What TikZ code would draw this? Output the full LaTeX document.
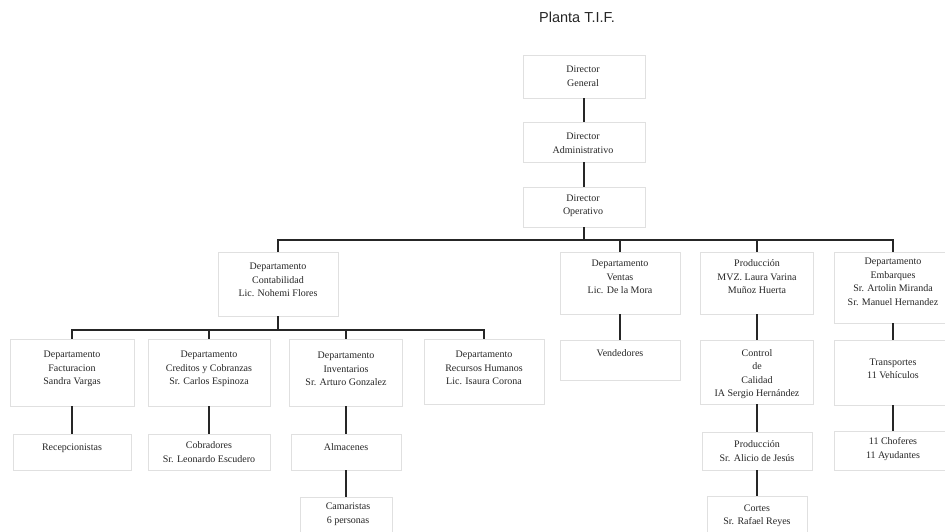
\documentclass[tikz,border=0pt]{standalone}
\usepackage{fontspec}
\setmainfont{Liberation Serif}
\newfontfamily\titlefont{Liberation Sans}
\begin{document}
\begin{tikzpicture}[x=1pt,y=-1pt,
  bx/.style={draw=black!12, line width=0.9pt, inner sep=0pt},
  tx/.style={align=center, inner sep=0pt, text=black!85, font=\fontsize{10}{13.5}\selectfont},
  ln/.style={draw=black!85, line width=1.2pt}]
\useasboundingbox[fill=white] (0,0) rectangle (945,532);
\node[font=\titlefont\fontsize{14.5}{16}\selectfont, text=black!85] (title) at (577,17) {Planta T.I.F.};
% boxes
\node[bx, minimum width=122, minimum height=43] (dg) at (584,76.5) {};
\node[bx, minimum width=122, minimum height=40] (da) at (584,142) {};
\node[bx, minimum width=122, minimum height=40] (dop) at (584,207) {};
\node[bx, minimum width=120, minimum height=64] (cont) at (278,284) {};
\node[bx, minimum width=120, minimum height=62] (ven) at (620,283) {};
\node[bx, minimum width=113, minimum height=62] (prod) at (757,283) {};
\node[bx, minimum width=118, minimum height=71] (emb) at (893,287.5) {};
\node[bx, minimum width=124, minimum height=67] (fact) at (72,372.5) {};
\node[bx, minimum width=122, minimum height=67] (cred) at (209,372.5) {};
\node[bx, minimum width=113, minimum height=67] (inv) at (346,372.5) {};
\node[bx, minimum width=120, minimum height=65] (rrhh) at (484,371.5) {};
\node[bx, minimum width=118, minimum height=36] (recep) at (72,452) {};
\node[bx, minimum width=122, minimum height=36] (cobr) at (209,452) {};
\node[bx, minimum width=110, minimum height=36] (alm) at (346,452) {};
\node[bx, minimum width=92, minimum height=43] (cam) at (346,518.5) {};
\node[bx, minimum width=120, minimum height=40] (vend) at (620,360) {};
\node[bx, minimum width=113, minimum height=64] (ctrl) at (757,372) {};
\node[bx, minimum width=110, minimum height=38] (pali) at (757,451) {};
\node[bx, minimum width=100, minimum height=44] (cort) at (757,518) {};
\node[bx, minimum width=118, minimum height=65] (transp) at (893,372.5) {};
\node[bx, minimum width=118, minimum height=39] (chof) at (893,450.5) {};
% texts
\node[tx] (dg-t) at (583,76) {Director\\General};
\node[tx] (da-t) at (583,143) {Director\\Administrativo};
\node[tx] (dop-t) at (583,206) {Director\\Operativo};
\node[tx] (cont-t) at (278,280) {Departamento\\Contabilidad\\Lic. Nohemi Flores};
\node[tx] (ven-t) at (620,277) {Departamento\\Ventas\\Lic. De la Mora};
\node[tx] (prod-t) at (757,277) {Producción\\MVZ. Laura Varina\\Muñoz Huerta};
\node[tx] (emb-t) at (893,282) {Departamento\\Embarques\\Sr. Artolin Miranda\\Sr. Manuel Hernandez};
\node[tx] (fact-t) at (72,369) {Departamento\\Facturacion\\Sandra Vargas};
\node[tx] (cred-t) at (209,369) {Departamento\\Creditos y Cobranzas\\Sr. Carlos Espinoza};
\node[tx] (inv-t) at (346,369) {Departamento\\Inventarios\\Sr. Arturo Gonzalez};
\node[tx] (rrhh-t) at (484,368) {Departamento\\Recursos Humanos\\Lic. Isaura Corona};
\node[tx] (recep-t) at (72,448) {Recepcionistas};
\node[tx] (cobr-t) at (209,452) {Cobradores\\Sr. Leonardo Escudero};
\node[tx] (alm-t) at (346,447) {Almacenes};
\node[tx] (cam-t) at (348,514) {Camaristas\\6 personas};
\node[tx] (vend-t) at (620,353) {Vendedores};
\node[tx] (ctrl-t) at (757,374) {Control\\de\\Calidad\\IA Sergio Hernández};
\node[tx] (pali-t) at (757,451) {Producción\\Sr. Alicio de Jesús};
\node[tx] (cort-t) at (757,516) {Cortes\\Sr. Rafael Reyes};
\node[tx] (transp-t) at (893,369) {Transportes\\11 Vehículos};
\node[tx] (chof-t) at (893,449) {11 Choferes\\11 Ayudantes};
% connectors
\coordinate (busA) at (584,240);
\coordinate (busB) at (278,330);
\draw[ln] (dg) -- (da);
\draw[ln] (da) -- (dop);
\draw[ln] (dop.south) -- (busA);
\draw[ln] (cont.north) |- (busA) -| (emb.north);
\draw[ln] (ven.north) -- (ven.north |- busA);
\draw[ln] (prod.north) -- (prod.north |- busA);
\draw[ln] (cont.south) -- (busB);
\draw[ln] (fact.north) |- (busB) -| (rrhh.north);
\draw[ln] (cred.north) -- (cred.north |- busB);
\draw[ln] (inv.north) -- (inv.north |- busB);
\draw[ln] (fact) -- (recep);
\draw[ln] (cred) -- (cobr);
\draw[ln] (inv) -- (alm);
\draw[ln] (alm) -- (cam);
\draw[ln] (ven) -- (vend);
\draw[ln] (prod) -- (ctrl);
\draw[ln] (ctrl) -- (pali);
\draw[ln] (pali) -- (cort);
\draw[ln] (emb) -- (transp);
\draw[ln] (transp) -- (chof);
\end{tikzpicture}
\end{document}
